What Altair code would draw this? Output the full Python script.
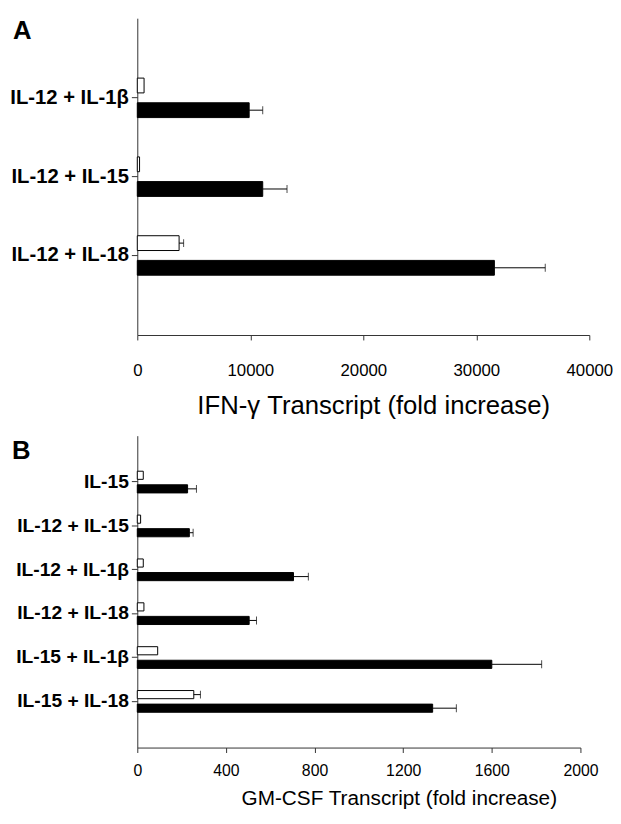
import altair as alt
import pandas as pd

series = ["control", "stimulated"]
panel_letters = ["A", "B"]

a_cats = ["IL-12 + IL-1β", "IL-12 + IL-15", "IL-12 + IL-18"]
a_white = [600, 200, 3700]
a_white_err = [0, 0, 400]
a_black = [9900, 11100, 31600]
a_black_err = [1200, 2150, 4500]
a_ticks = [0, 10000, 20000, 30000, 40000]
a_title = "IFN-γ Transcript (fold increase)"

b_cats = ["IL-15", "IL-12 + IL-15", "IL-12 + IL-1β", "IL-12 + IL-18",
          "IL-15 + IL-1β", "IL-15 + IL-18"]
b_white = [27, 15, 27, 30, 92, 255]
b_white_err = [0, 0, 0, 0, 0, 30]
b_black = [227, 235, 705, 505, 1600, 1333]
b_black_err = [40, 17, 67, 33, 225, 107]
b_ticks = [0, 400, 800, 1200, 1600, 2000]
b_title = "GM-CSF Transcript (fold increase)"

FONT = "Liberation Sans"


def make_df(cats, white, white_err, black, black_err, grp):
    rows = []
    for i, c in enumerate(cats):
        rows.append({"cat": c, grp: series[0], "value": white[i], "err": white_err[i]})
        rows.append({"cat": c, grp: series[1], "value": black[i], "err": black_err[i]})
    df = pd.DataFrame(rows)
    df["hi"] = df["value"] + df["err"]
    return df


def panel(df, grp, cats, ticks, width, height, y_pi, y_po, off_range, off_pi, cap,
          ylab_size, xlab_size, xlab_pad, title, title_size, title_pad, title_x,
          letter, letter_x, letter_y):
    base = alt.Chart(df)
    yenc = alt.Y("cat:N", sort=cats, title=None,
                 scale=alt.Scale(domain=cats, paddingInner=y_pi, paddingOuter=y_po),
                 axis=alt.Axis(labelFontSize=ylab_size, labelFontWeight="bold",
                               labelFont=FONT, labelColor="black", labelLimit=400,
                               tickSize=6, labelPadding=3, domainColor="#333",
                               tickColor="#333"))
    yoff = alt.YOffset(f"{grp}:N", sort=series,
                       scale=alt.Scale(domain=series, range=[0, off_range],
                                       paddingInner=off_pi, paddingOuter=0))
    xenc = alt.X("value:Q", title=title,
                 scale=alt.Scale(domain=[0, ticks[-1]], nice=False),
                 axis=alt.Axis(values=ticks, format="d", grid=False, labelFlush=False,
                               labelFontSize=xlab_size, labelFont=FONT, labelColor="black",
                               labelPadding=xlab_pad, tickSize=5,
                               titleFont=FONT, titleFontSize=title_size,
                               titleFontWeight="normal", titleColor="black",
                               titlePadding=title_pad, titleX=title_x, titleAlign="center",
                               domainColor="#333", tickColor="#333"))
    bars = base.mark_bar(stroke="black", strokeWidth=1).encode(
        x=xenc, y=yenc, yOffset=yoff,
        color=alt.Color(f"{grp}:N", legend=None,
                        scale=alt.Scale(domain=series, range=["white", "black"])))
    err = base.transform_filter("datum.err > 0").mark_rule(
        color="black", strokeWidth=1).encode(
        x="value:Q", x2="hi:Q", y=alt.Y("cat:N", sort=cats), yOffset=yoff)
    caps = base.transform_filter("datum.err > 0").mark_tick(
        orient="vertical", size=cap, thickness=1, color="black").encode(
        x="hi:Q", y=alt.Y("cat:N", sort=cats), yOffset=yoff)
    lab = alt.Chart(pd.DataFrame({"t": [letter]})).mark_text(
        font=FONT, fontSize=26, fontWeight="bold", align="left", baseline="top",
        color="black").encode(text="t:N", x=alt.value(letter_x), y=alt.value(letter_y))
    return alt.layer(bars, err, caps, lab).properties(width=width, height=height)


dfa = make_df(a_cats, a_white, a_white_err, a_black, a_black_err, "grp_a")
dfb = make_df(b_cats, b_white, b_white_err, b_black, b_black_err, "grp_b")

pa = panel(dfa, "grp_a", a_cats, a_ticks, 458, 321, 0.5, 0.76, 40, 0.4, 8,
           20.5, 17, 23, a_title, 26, 15, 239, panel_letters[0], -126, 0)
pb = panel(dfb, "grp_b", b_cats, b_ticks, 449, 316, 0.51, 0.81, 22, 0.4, 8,
           19.5, 16, 10, b_title, 21, 10, 265, panel_letters[1], -127, 3)

chart = alt.vconcat(pa, pb, spacing=17).resolve_scale(
    yOffset="independent", color="independent"
).properties(
    padding={"left": 1, "top": 5, "right": 0, "bottom": 2}
).configure_view(strokeWidth=0).configure_axis(grid=False)

chart.save("out.html", embed_options={"renderer": "svg", "actions": False})
